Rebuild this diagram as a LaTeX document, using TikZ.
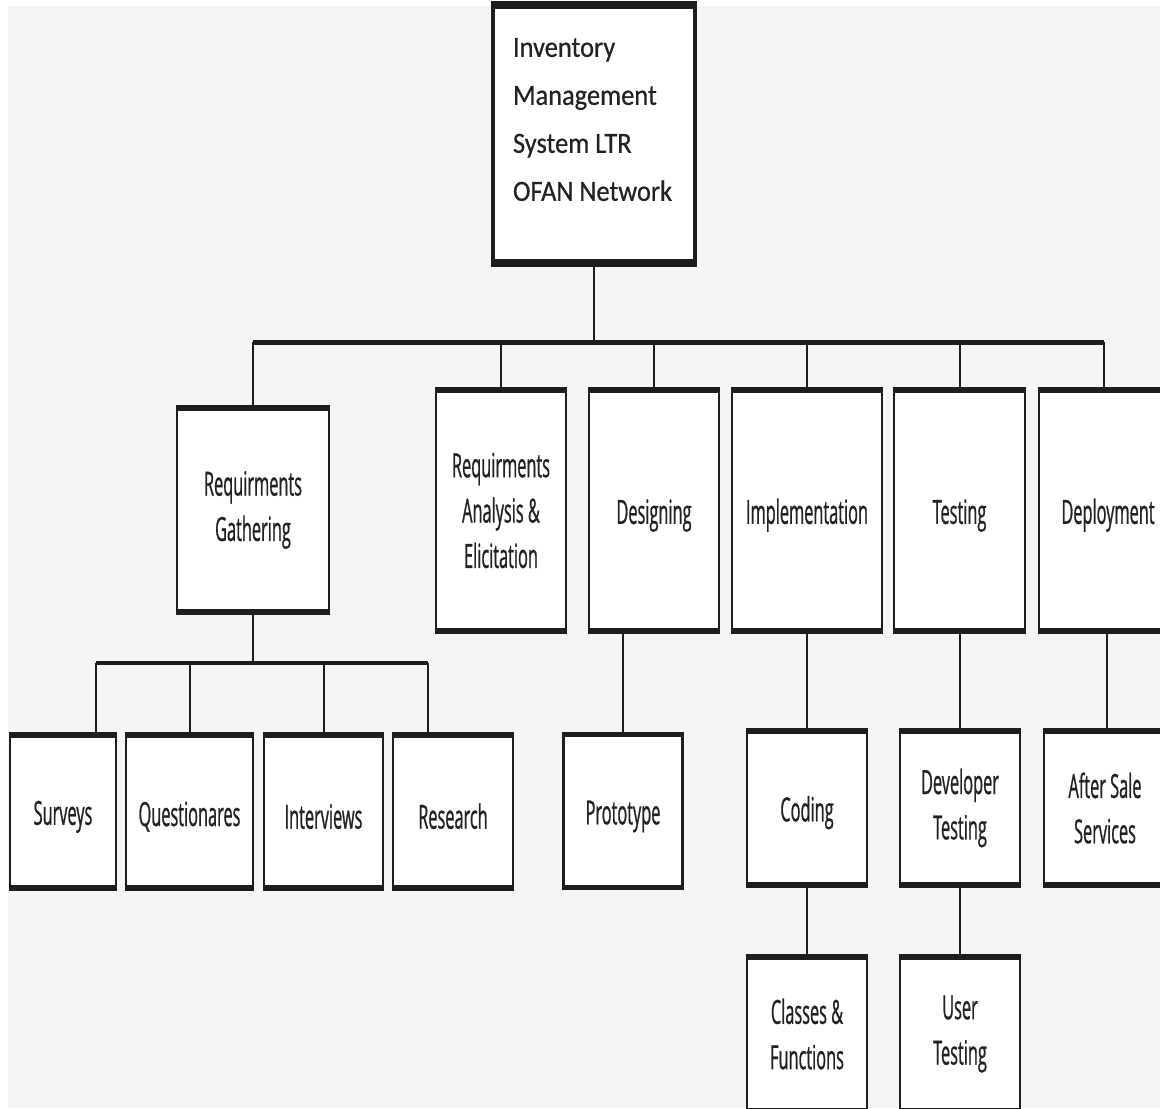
\documentclass[tikz,border=0pt]{standalone}
\usepackage{fontspec}
\newfontfamily\rootfont{Carlito}[FakeStretch=0.9,FakeBold=0.5]
\newfontfamily\boxfont{Open Sans}[FakeStretch=0.49,FakeBold=0.7]
\definecolor{bg}{HTML}{F5F5F5}
\definecolor{ink}{HTML}{1E1E1E}
\definecolor{txt}{HTML}{222222}
\tikzset{
  box/.style={draw=ink, fill=white, line width=2.2pt, inner sep=0pt, outer sep=0pt,
    align=center, text=txt, font=\boxfont\fontsize{25pt}{34pt}\selectfont,
    execute at begin node={\rule{0pt}{26pt}}},
  rootbox/.style={draw=ink, fill=white, line width=3pt, inner sep=0pt, outer sep=0pt,
    minimum width=151.5pt, minimum height=193.5pt},
  roottext/.style={inner sep=0pt, outer sep=0pt, align=left, text=txt,
    font=\rootfont\fontsize{22pt}{36pt}\selectfont},
  rim/.style={draw=ink, line width=4pt, shorten <=-1.1pt, shorten >=-1.1pt},
  rootrim/.style={draw=ink, line width=6pt, shorten <=-1.5pt, shorten >=-1.5pt},
  link/.style={draw=ink, line width=1.5pt},
  bus/.style={draw=ink, line width=3.75pt},
  bustwo/.style={draw=ink, line width=3pt},
}
\begin{document}
\begin{tikzpicture}[x=0.75pt,y=-0.75pt]
\useasboundingbox (0,0) rectangle (1160,1108);
\fill[white] (0,0) rectangle (1160,1108);
\fill[bg] (8,6) rectangle (1160,1108);
\clip (0,0) rectangle (1160,1108);

% root
\node[rootbox] (root) at (594,134) {};
\node[roottext, anchor=north west] (rootlabel) at (513,38)
  {Inventory\\Management\\System LTR\\OFAN Network};

% level 1
\node[box, minimum width=114pt, minimum height=153pt] (rg) at (253,510) {Requirments\\Gathering};
\node[box, minimum width=97.5pt, minimum height=180.75pt] (ra) at (501,510.5) {Requirments\\Analysis \&\\Elicitation};
\node[box, minimum width=97.5pt, minimum height=180.75pt] (ds) at (654,510.5) {Designing};
\node[box, minimum width=112.5pt, minimum height=180.75pt] (im) at (807,510.5) {Implementation};
\node[box, minimum width=98.25pt, minimum height=180.75pt] (ts) at (959.5,510.5) {Testing};
\node[box, minimum width=103.5pt, minimum height=180.75pt] (dp) at (1108,510.5) {Deployment};

% level 2
\node[box, minimum width=79.5pt, minimum height=114.75pt] (sv) at (63,811.5) {Surveys};
\node[box, minimum width=95.25pt, minimum height=114.75pt] (qu) at (189.5,811.5) {Questionares};
\node[box, minimum width=89.25pt, minimum height=114.75pt] (iv) at (323.5,811.5) {Interviews};
\node[box, minimum width=90pt, minimum height=114.75pt] (rs) at (453,811.5) {Research};
\node[box, minimum width=89.25pt, minimum height=114.75pt] (pr) at (623,811) {Prototype};
\node[box, minimum width=90pt, minimum height=115.5pt] (cd) at (807,808) {Coding};
\node[box, minimum width=90pt, minimum height=115.5pt] (dt) at (960,808) {Developer\\Testing};
\node[box, minimum width=91.5pt, minimum height=115.5pt] (as) at (1105,808) {After Sale\\Services};

% level 3
\node[box, minimum width=90pt, minimum height=115.5pt] (cf) at (807,1034) {Classes \&\\Functions};
\node[box, minimum width=90pt, minimum height=115.5pt] (ut) at (960,1034) {User\\Testing};

% thick top and bottom rims
\draw[rootrim] (root.north west) -- (root.north east);
\draw[rootrim] (root.south west) -- (root.south east);
\foreach \n in {rg,ra,ds,im,ts,dp,sv,qu,iv,rs,pr,cd,dt,as,cf,ut}{
  \draw[rim] (\n.north west) -- (\n.north east);
  \draw[rim] (\n.south west) -- (\n.south east);
}

% connectors
\coordinate (busL) at (253,342);
\coordinate (busR) at (1104,342);
\draw[link] (root.south) -- (root.south |- busL);
\draw[bus] (busL) -- (busR);
\foreach \n in {rg,ra,ds,im,ts}
  \draw[link] (busL -| \n.north) -- (\n.north);
\draw[link] (busR) -- (busR |- dp.north);

\coordinate (btL) at (96,663);
\coordinate (btR) at (428,663);
\draw[link] (rg.south) -- (rg.south |- btL);
\draw[bustwo] (btL) -- (btR);
\draw[link] (btL) -- (btL |- sv.north);
\draw[link] (btL -| qu.north) -- (qu.north);
\draw[link] (btL -| iv.north) -- (iv.north);
\draw[link] (btR) -- (btR |- rs.north);

\draw[link] (pr.north |- ds.south) -- (pr.north);
\draw[link] (im.south) -- (cd.north);
\draw[link] (cd.south) -- (cf.north);
\draw[link] (dt.north |- ts.south) -- (dt.north);
\draw[link] (dt.south) -- (ut.north);
\coordinate (asTop) at (1107,631);
\draw[link] (asTop) -- (asTop |- as.north);
\end{tikzpicture}
\end{document}
